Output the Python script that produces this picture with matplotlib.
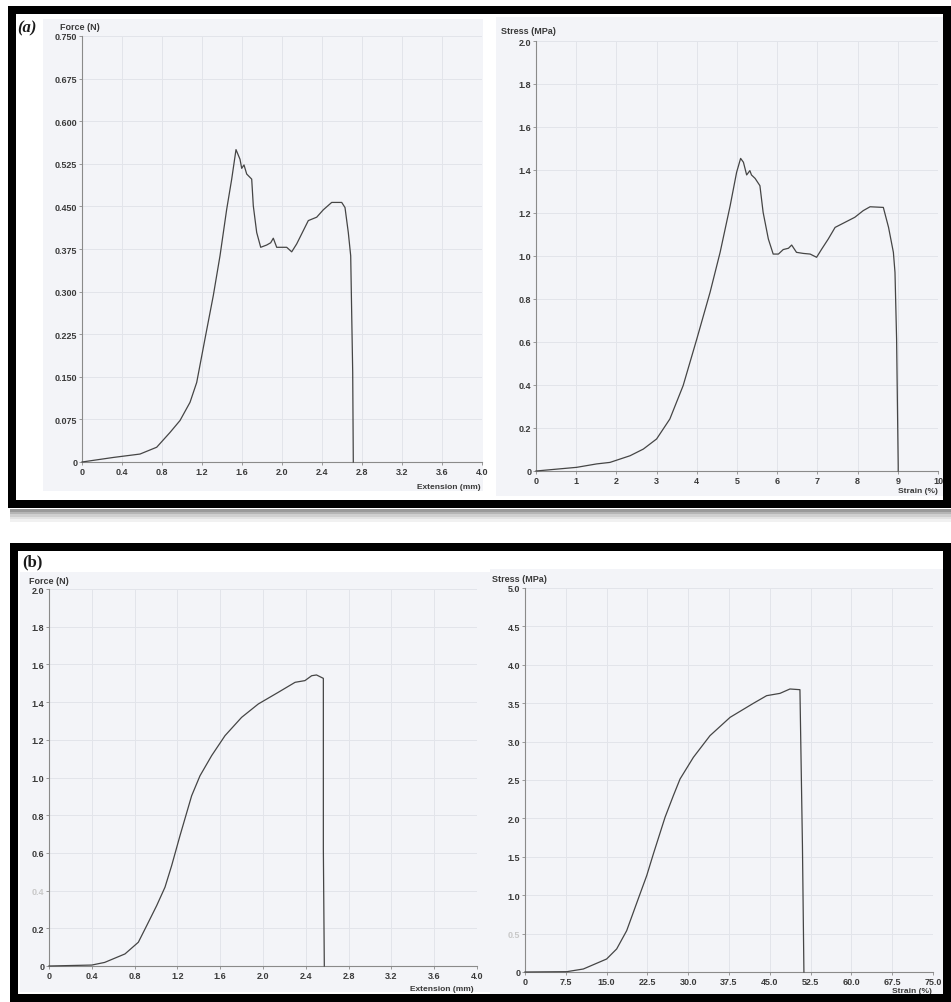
import matplotlib
matplotlib.use("Agg")
import matplotlib.pyplot as plt
from matplotlib.patches import Rectangle
import numpy as np

W, H = 951, 1003

# ---------------- data ----------------
# (a) left: Force vs Extension
ext_a = [0.0, 0.313, 0.58, 0.747, 0.88, 0.98, 1.08, 1.147, 1.23, 1.313, 1.38, 1.447, 1.497, 1.54,
         1.58, 1.597, 1.62, 1.647, 1.697, 1.713, 1.747, 1.787, 1.847, 1.887, 1.913, 1.947,
         2.047, 2.097, 2.147, 2.263, 2.347, 2.413, 2.497, 2.597, 2.63, 2.663, 2.687, 2.707, 2.713]
force_a = [0.0, 0.008, 0.014, 0.026, 0.052, 0.073, 0.105, 0.140, 0.217, 0.293, 0.363, 0.445, 0.498, 0.550,
           0.533, 0.517, 0.523, 0.507, 0.498, 0.451, 0.404, 0.378, 0.382, 0.386, 0.394, 0.378,
           0.378, 0.370, 0.384, 0.425, 0.431, 0.444, 0.457, 0.457, 0.448, 0.404, 0.363, 0.158, 0.0]

# (a) right: Stress vs Strain
strain_a = [0.0, 1.01, 1.51, 1.84, 2.34, 2.67, 3.0, 3.33, 3.66, 4.0, 4.33, 4.58, 4.83, 4.99, 5.09,
            5.16, 5.24, 5.32, 5.36, 5.45, 5.57, 5.65, 5.78, 5.9, 6.03, 6.15, 6.28, 6.36, 6.48,
            6.65, 6.82, 6.98, 7.11, 7.27, 7.44, 7.69, 7.93, 8.14, 8.31, 8.64, 8.77, 8.89, 8.93,
            8.97, 9.01, 9.01]
stress_a = [0.0, 0.017, 0.033, 0.040, 0.071, 0.102, 0.149, 0.242, 0.397, 0.614, 0.831, 1.017, 1.234, 1.389, 1.454,
            1.436, 1.377, 1.397, 1.377, 1.361, 1.327, 1.203, 1.079, 1.009, 1.009, 1.030, 1.036, 1.051, 1.017,
            1.012, 1.009, 0.994, 1.033, 1.079, 1.133, 1.157, 1.180, 1.211, 1.229, 1.226, 1.133, 1.017, 0.924,
            0.614, 0.025, 0.0]

# (b) left: Force vs Extension
ext_b = [0.0, 0.40, 0.52, 0.71, 0.835, 0.913, 1.006, 1.084, 1.146, 1.224, 1.333, 1.411, 1.52,
         1.645, 1.80, 1.956, 2.143, 2.30, 2.392, 2.455, 2.50, 2.564, 2.564, 2.573]
force_b = [0.0, 0.005, 0.019, 0.064, 0.126, 0.214, 0.320, 0.418, 0.532, 0.691, 0.903, 1.009, 1.116,
           1.222, 1.319, 1.390, 1.452, 1.505, 1.514, 1.540, 1.544, 1.526, 0.621, 0.0]

# (b) right: Stress vs Strain
strain_b = [0.0, 7.66, 10.72, 15.0, 16.85, 18.69, 21.14, 22.37, 23.59, 25.74, 27.27, 28.5, 30.95,
            34.0, 37.7, 41.97, 44.42, 46.87, 48.7, 50.54, 51.0, 51.27]
stress_b = [0.0, 0.004, 0.039, 0.169, 0.300, 0.538, 1.016, 1.254, 1.536, 2.014, 2.296, 2.513, 2.795,
            3.077, 3.316, 3.498, 3.598, 3.628, 3.685, 3.676, 1.645, 0.0]

# tick labels
yt_a_left = ["0", "0.075", "0.150", "0.225", "0.300", "0.375", "0.450", "0.525", "0.600", "0.675", "0.750"]
xt_ext = ["0", "0.4", "0.8", "1.2", "1.6", "2.0", "2.4", "2.8", "3.2", "3.6", "4.0"]
yt_a_right = ["0", "0.2", "0.4", "0.6", "0.8", "1.0", "1.2", "1.4", "1.6", "1.8", "2.0"]
xt_a_right = ["0", "1", "2", "3", "4", "5", "6", "7", "8", "9", "10"]
yt_b_left = ["0", "0.2", "0.4", "0.6", "0.8", "1.0", "1.2", "1.4", "1.6", "1.8", "2.0"]
yt_b_right = ["0", "0.5", "1.0", "1.5", "2.0", "2.5", "3.0", "3.5", "4.0", "4.5", "5.0"]
xt_b_right = ["0", "7.5", "15.0", "22.5", "30.0", "37.5", "45.0", "52.5", "60.0", "67.5", "75.0"]

# ---------------- figure ----------------
plt.rcParams['font.family'] = ['Liberation Sans', 'DejaVu Sans']
fig = plt.figure(figsize=(W / 100, H / 100), dpi=100)
fig.patch.set_facecolor('white')


def frect(x0, y0, x1, y1):
    return [x0 / W, 1 - y1 / H, (x1 - x0) / W, (y1 - y0) / H]


def add_bg(x0, y0, x1, y1, color='#f3f4f8'):
    r = frect(x0, y0, x1, y1)
    fig.patches.append(Rectangle((r[0], r[1]), r[2], r[3], transform=fig.transFigure,
                                 facecolor=color, edgecolor='none', zorder=-10))


def add_frame(x0, y0, x1, y1, lw_px=8):
    r = frect(x0, y0, x1, y1)
    fig.patches.append(Rectangle((r[0], r[1]), r[2], r[3], transform=fig.transFigure,
                                 facecolor='none', edgecolor='black', linewidth=lw_px * 0.72, zorder=5))


# shadow under panel (a)
for i, c in enumerate(['#9a9a9a', '#b5b5b5', '#cfcfcf', '#e3e3e3', '#f1f1f1']):
    add_bg(10, 510 + i * 2.5, 951, 513 + i * 2.5, color=c)

# plot-area backgrounds
add_bg(43, 20, 483, 492)
add_bg(496, 18, 943, 497)
add_bg(20, 573, 490, 993)
add_bg(490, 570, 945, 995)

# frames
add_frame(12, 11, 947, 505)
add_frame(14, 548, 947, 999)


def make_ax(px, xlim, ylim, xticks, xlabels, yticks, ylabels, x, y):
    ax = fig.add_axes(frect(*px))
    ax.set_zorder(1)
    ax.patch.set_alpha(0)
    ax.set_xlim(*xlim)
    ax.set_ylim(*ylim)
    for s in ['top', 'right']:
        ax.spines[s].set_visible(False)
    for s in ['left', 'bottom']:
        ax.spines[s].set_color('#8a8a8a')
        ax.spines[s].set_linewidth(0.8)
    ax.set_xticks(xticks)
    ax.set_xticklabels(xlabels)
    ax.set_yticks(yticks)
    ax.set_yticklabels(ylabels)
    ax.tick_params(axis='both', length=2, width=0.6, color='#8a8a8a', labelsize=6.5,
                   labelcolor='#3a3a3a', pad=1.5)
    for lab in ax.get_xticklabels() + ax.get_yticklabels():
        lab.set_fontweight('bold')
    ax.grid(True, color='#e2e4ea', linewidth=0.7)
    ax.set_axisbelow(True)
    ax.plot(x, y, color='#454545', linewidth=0.9, zorder=3, clip_on=False,
            solid_joinstyle='round')
    return ax


ax1 = make_ax((82, 37, 482, 463), (0, 4.0), (0, 0.75),
              np.arange(0, 4.01, 0.4), xt_ext, np.arange(0, 0.7501, 0.075), yt_a_left,
              ext_a, force_a)
ax2 = make_ax((536, 42, 938, 472), (0, 10), (0, 2.0),
              np.arange(0, 10.1, 1), xt_a_right, np.arange(0, 2.01, 0.2), yt_a_right,
              strain_a, stress_a)
ax3 = make_ax((49, 590, 477, 967), (0, 4.0), (0, 2.0),
              np.arange(0, 4.01, 0.4), xt_ext, np.arange(0, 2.01, 0.2), yt_b_left,
              ext_b, force_b)
ax4 = make_ax((525, 589, 933, 973), (0, 75), (0, 5.0),
              np.arange(0, 75.1, 7.5), xt_b_right, np.arange(0, 5.01, 0.5), yt_b_right,
              strain_b, stress_b)

# faded labels (as in scan)
ax3.get_yticklabels()[2].set_color('#c8c8c8')
ax4.get_yticklabels()[1].set_color('#c8c8c8')


def ftext(x, y, s, **kw):
    fig.text(x / W, 1 - y / H, s, **kw)


lab_kw = dict(fontsize=6.5, fontweight='bold', color='#3a3a3a', va='center')
lab_kw2 = dict(fontsize=6, fontweight='bold', color='#3a3a3a', va='center')
ftext(60, 27, "Force (N)", ha='left', **lab_kw)
ftext(481, 488, "Extension (mm)", ha='right', **lab_kw2)
ftext(501, 32, "Stress (MPa)", ha='left', **lab_kw)
ftext(938, 492, "Strain (%)", ha='right', **lab_kw2)
ftext(29, 581, "Force (N)", ha='left', **lab_kw)
ftext(474, 990, "Extension (mm)", ha='right', **lab_kw2)
ftext(492, 579, "Stress (MPa)", ha='left', **lab_kw)
ftext(932, 992, "Strain (%)", ha='right', **lab_kw2)

ftext(17, 28, "(a)", ha='left', va='center', fontsize=12, fontweight='bold', style='italic',
      family=['Liberation Serif', 'DejaVu Serif'], color='#1a1a1a')
ftext(22, 562, "(b)", ha='left', va='center', fontsize=12, fontweight='bold',
      family=['Liberation Serif', 'DejaVu Serif'], color='#1a1a1a')

fig.savefig("out.png", dpi=100, facecolor='white')
